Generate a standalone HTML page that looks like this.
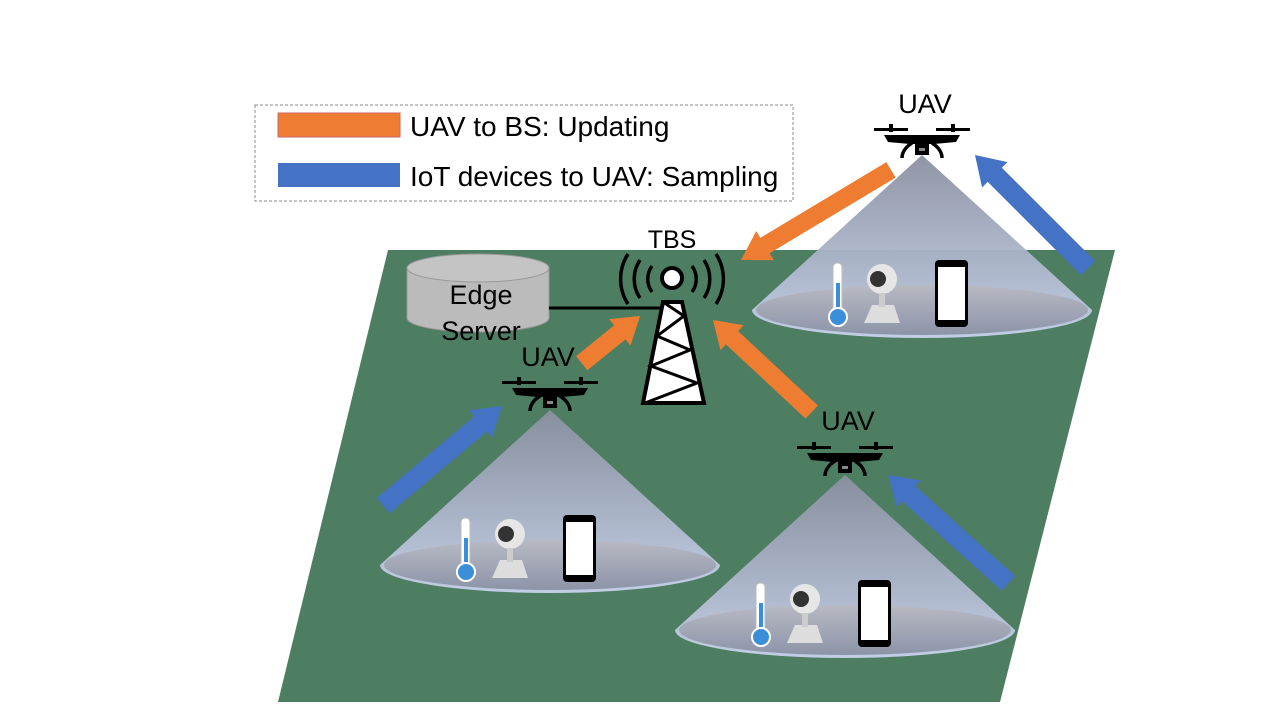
<!DOCTYPE html>
<html><head><style>body{margin:0;background:#fff}svg{display:block}text{font-family:"Liberation Sans",sans-serif}</style></head><body>
<svg width="1280" height="720" viewBox="0 0 1280 720" xmlns="http://www.w3.org/2000/svg">
<defs>
<linearGradient id="cg" x1="0" y1="0" x2="0" y2="1"><stop offset="0" stop-color="#8a90a0"/><stop offset="1" stop-color="#c8d2ec"/></linearGradient>
<linearGradient id="eg" x1="0" y1="0" x2="0" y2="1"><stop offset="0" stop-color="#b8bac4"/><stop offset="1" stop-color="#8c94a8"/></linearGradient>
<g id="drone">
<rect x="-48" y="-12" width="34" height="3" fill="#000"/><rect x="14" y="-12" width="34" height="3" fill="#000"/>
<rect x="-33" y="-16" width="4" height="8" fill="#000"/><rect x="29" y="-16" width="4" height="8" fill="#000"/>
<path d="M-38,-5 L38,-5 L34,2 L12,4 L-12,4 L-34,2Z" fill="#000"/>
<path d="M-10,3 C-18,8 -20,14 -20,18" stroke="#000" stroke-width="3.5" fill="none"/>
<path d="M10,3 C18,8 20,14 20,18" stroke="#000" stroke-width="3.5" fill="none"/>
<rect x="-7" y="4" width="14" height="11" fill="#000"/><rect x="-3" y="8" width="6" height="3" fill="#888"/>
</g>
<g id="cone">
<path d="M0,0 L-170,155 A170,28 0 0 0 170,155 Z" fill="url(#cg)" opacity="0.95"/>
<ellipse cx="0" cy="155" rx="166" ry="25" fill="url(#eg)"/>
<rect x="-89" y="108" width="9" height="50" rx="4" fill="#fff" stroke="#bbb"/>
<rect x="-86" y="128" width="4" height="28" fill="#3a8fd8"/>
<circle cx="-84" cy="162" r="9" fill="#3a8fd8" stroke="#fff" stroke-width="2"/>
<path d="M-58,168 L-22,168 L-28,150 L-50,150Z" fill="#ddd"/>
<circle cx="-40" cy="124" r="15" fill="#e6e6e6"/><circle cx="-44" cy="124" r="8" fill="#333"/>
<rect x="-43" y="138" width="6" height="14" fill="#ccc"/>
<rect x="13" y="105" width="33" height="67" rx="4" fill="#000"/><rect x="16" y="112" width="27" height="53" fill="#fff"/>
</g>
</defs>
<polygon points="388,250 1115,250 1000,702 278,702" fill="#4e7e61"/>
<rect x="255" y="105" width="538" height="96" fill="#fff" stroke="#888" stroke-dasharray="3,2"/>
<rect x="278" y="113" width="122" height="24" fill="#ee7d32" stroke="#c66" stroke-width="1"/>
<rect x="278" y="163" width="122" height="24" fill="#4472c4"/>
<text x="410" y="136" font-size="28">UAV to BS: Updating</text>
<text x="410" y="186" font-size="28">IoT devices to UAV: Sampling</text>
<use href="#cone" x="922" y="155"/>
<use href="#cone" x="550" y="410"/>
<use href="#cone" x="845" y="475"/>
<!-- server -->
<path d="M407,268 L407,318 A71,14 0 0 0 549,318 L549,268Z" fill="#bbb" stroke="#999"/>
<ellipse cx="478" cy="268" rx="71" ry="14" fill="#c4c4c4" stroke="#999"/>
<text x="481" y="304" font-size="27" text-anchor="middle">Edge</text>
<text x="481" y="340" font-size="27" text-anchor="middle">Server</text>
<line x1="549" y1="308" x2="665" y2="308" stroke="#000" stroke-width="3"/>
<!-- tower -->
<polygon points="663,302 682,302 704,403 643,403" fill="#fff" stroke="#000" stroke-width="4"/>
<path d="M663,302 L684,316 L657,336 L690,350 L651,366 L697,383 L645,403" stroke="#000" stroke-width="3" fill="none"/>
<circle cx="672" cy="278" r="10" fill="#fff" stroke="#000" stroke-width="4"/>
<g stroke="#000" stroke-width="3.5" fill="none">
<path d="M652,266 A22,22 0 0 0 652,292"/><path d="M692,266 A22,22 0 0 1 692,292"/>
<path d="M640,260 A34,34 0 0 0 640,298"/><path d="M704,260 A34,34 0 0 1 704,298"/>
<path d="M628,254 A46,46 0 0 0 628,304"/><path d="M716,254 A46,46 0 0 1 716,304"/>
</g>
<text x="672" y="248" font-size="25" text-anchor="middle">TBS</text>
<!-- arrows -->
<g transform="translate(741,260) rotate(-31)"><path d="M28,-9 L175,-9 L175,9 L28,9 L28,17 L0,0 L28,-17Z" fill="#ee7d32"/></g>
<g transform="translate(640,316) rotate(-39)"><path d="M-75,-9 L-26,-9 L-26,-17 L0,0 L-26,17 L-26,9 L-75,9Z" fill="#ee7d32"/></g>
<g transform="translate(713,320) rotate(43)"><path d="M0,0 L26,-17 L26,-9 L135,-9 L135,9 L26,9 L26,17Z" fill="#ee7d32"/></g>
<g transform="translate(502,406) rotate(-40)"><path d="M-155,-10 L-28,-10 L-28,-18 L0,0 L-28,18 L-28,10 L-155,10Z" fill="#4472c4"/></g>
<g transform="translate(975,155) rotate(45)"><path d="M0,0 L28,-18 L28,-10 L160,-10 L160,10 L28,10 L28,18Z" fill="#4472c4"/></g>
<g transform="translate(888,475) rotate(42)"><path d="M0,0 L28,-18 L28,-10 L162,-10 L162,10 L28,10 L28,18Z" fill="#4472c4"/></g>
<!-- drones -->
<use href="#drone" x="922" y="140"/>
<use href="#drone" x="550" y="393"/>
<use href="#drone" x="845" y="458"/>
<text x="925" y="113" font-size="27" text-anchor="middle">UAV</text>
<text x="548" y="366" font-size="27" text-anchor="middle">UAV</text>
<text x="848" y="430" font-size="27" text-anchor="middle">UAV</text>
</svg>
</body></html>
